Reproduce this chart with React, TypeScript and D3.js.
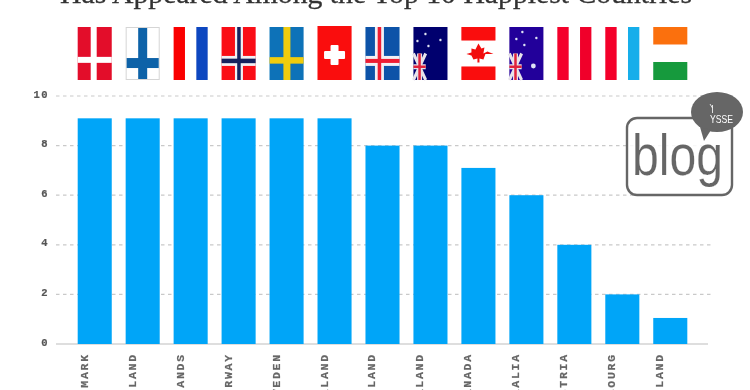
import React from "react";
import * as d3 from "d3";

const countries = ["DENMARK","FINLAND","NETHERLANDS","NORWAY","SWEDEN","SWITZERLAND","ICELAND","NEW ZEALAND","CANADA","AUSTRALIA","AUSTRIA","LUXEMBOURG","IRELAND"];
const appearances = [9.1,9.1,9.1,9.1,9.1,9.1,8,8,7.1,6,4,2,1.05];
const yTicks = [0,2,4,6,8,10];
const titleText = "Has Appeared Among the Top 10 Happiest Countries";

const W = 750, H = 390;
const x = d3.scaleBand<string>().domain(countries).range([70.5, 694.5]).paddingInner(0.29).paddingOuter(0.15);
const y = d3.scaleLinear().domain([0, 10]).range([344, 96]);
const blue = "#05a5f8";
const FT = 27, FH = 53;

function Cross({ w, cx, cy, vw, hh, c }: any) {
  return <g fill={c}>
    <rect x={cx - vw / 2} y={0} width={vw} height={FH} />
    <rect x={0} y={cy - hh / 2} width={w} height={hh} />
  </g>;
}
function Union({ w }: { w: number }) {
  const uw = w * 0.36, t = FH * 0.5, b = FH;
  return <g>
    <path d={`M0 ${t}L${uw} ${b}M${uw} ${t}L0 ${b}`} stroke="#e8e3ea" strokeWidth={3} />
    <path d={`M${uw / 2} ${t}V${b}M0 ${(t + b) / 2}H${uw}`} stroke="#e8e3ea" strokeWidth={5} />
    <path d={`M${uw / 2} ${t}V${b}M0 ${(t + b) / 2}H${uw}`} stroke="#e0243c" strokeWidth={2.5} />
  </g>;
}
function Stars({ pts }: { pts: number[][] }) {
  return <g fill="#dfe3f5">{pts.map((p, i) => <circle key={i} cx={p[0]} cy={p[1]} r={p[2] ?? 1.2} />)}</g>;
}
function Flag({ name, w }: { name: string; w: number }) {
  const third = w / 3;
  switch (name) {
    case "DENMARK":
      return <g><rect width={w} height={FH} fill="#e30a2a" /><Cross w={w} cx={w * 0.47} cy={FH * 0.62} vw={6} hh={6} c="#fff" /></g>;
    case "FINLAND":
      return <g><rect x={0.5} y={0.5} width={w - 1} height={FH - 1} fill="#fff" stroke="#d5d5d5" /><rect x={w * 0.5 - 4.5} y={1} width={9} height={FH - 2} fill="#0b62a8" /><rect x={1} y={FH * 0.68 - 5} width={w - 2} height={10} fill="#0b62a8" /></g>;
    case "NETHERLANDS":
      return <g><rect width={third} height={FH} fill="#fa0505" /><rect x={2 * third} width={third} height={FH} fill="#0d47c0" /></g>;
    case "NORWAY":
      return <g><rect width={w} height={FH} fill="#fa0a14" /><Cross w={w} cx={w * 0.51} cy={FH * 0.64} vw={8} hh={10} c="#f2f0f4" /><Cross w={w} cx={w * 0.51} cy={FH * 0.64} vw={3.5} hh={4.5} c="#12245e" /></g>;
    case "SWEDEN":
      return <g><rect width={w} height={FH} fill="#0d72b8" /><Cross w={w} cx={w * 0.51} cy={FH * 0.63} vw={7} hh={6.5} c="#f0cc10" /></g>;
    case "SWITZERLAND":
      return <g><rect y={-1} width={w} height={FH + 1} fill="#fa0a0a" /><rect x={w / 2 - 4} y={FH * 0.53 - 10} width={8} height={20} fill="#fff" rx={1} /><rect x={w / 2 - 10.5} y={FH * 0.53 - 4} width={21} height={8} fill="#fff" rx={1} /></g>;
    case "ICELAND":
      return <g><rect width={w} height={FH} fill="#0b52a8" /><Cross w={w} cx={w * 0.41} cy={FH * 0.64} vw={9} hh={10} c="#f2f0f4" /><Cross w={w} cx={w * 0.41} cy={FH * 0.64} vw={3.5} hh={4} c="#ee1a30" /></g>;
    case "NEW ZEALAND":
      return <g><rect width={w} height={FH} fill="#05056e" /><Union w={w} /><Stars pts={[[12, 7], [27, 13], [15, 19], [4, 14]]} /></g>;
    case "CANADA":
      return <g><rect width={w} height={13.5} fill="#fa0a0a" /><rect y={FH - 13.5} width={w} height={13.5} fill="#fa0a0a" /><path transform={`translate(${w / 2},${FH / 2})`} d="M0-10L3-5L6-6L5 0L9-2L15 0.5H7L5 6L1 5V9H-1V5L-5 6L-7 2L-12 0.5L-7-1L-7-5L-3-4Z" fill="#f21010" /></g>;
    case "AUSTRALIA":
      return <g><rect width={w} height={FH} fill="#24069a" /><Union w={w} /><Stars pts={[[13, 5], [7, 12], [27, 11], [15, 18], [24, 39, 2.4]]} /></g>;
    case "AUSTRIA":
      return <g><rect width={third} height={FH} fill="#f4052a" /><rect x={2 * third} width={third} height={FH} fill="#f0052c" /></g>;
    case "LUXEMBOURG":
      return <g><rect width={third} height={FH} fill="#f4052a" /><rect x={2 * third} width={third} height={FH} fill="#14aeea" /></g>;
    default:
      return <g><rect width={w} height={17.5} fill="#fb6f10" /><rect y={FH - 18} width={w} height={18} fill="#149a3c" /></g>;
  }
}

export default function App() {
  const bw = x.bandwidth();
  return (
    <svg width={W} height={H} viewBox={`0 0 ${W} ${H}`} style={{ position: "absolute", left: 0, top: 0, background: "#fff" }}>
      <defs><filter id="soft" x="-2%" y="-2%" width="104%" height="104%"><feGaussianBlur stdDeviation="0.6" /></filter></defs>
      <g filter="url(#soft)">
        <text x={60} y={3} textLength={632} lengthAdjust="spacingAndGlyphs" fontFamily="'Liberation Serif', serif" fontSize={28} fill="#333" stroke="#333" strokeWidth={0.3}>{titleText}</text>

        {yTicks.map(t => (
          <g key={t}>
            {t > 0 && <line x1={56} x2={712} y1={y(t)} y2={y(t)} stroke="#c9c9c9" strokeWidth={1.2} strokeDasharray="3.5 3.5" />}
            <text x={49} y={y(t) + 1.5} textAnchor="end" fontFamily="'Liberation Mono', monospace" fontWeight="bold" fontSize={10.5} letterSpacing={1.5} fill="#555" stroke="#555" strokeWidth={0.2}>{t}</text>
          </g>
        ))}
        <line x1={56} x2={708} y1={y(0)} y2={y(0)} stroke="#bdbdbd" strokeWidth={1.2} />

        {countries.map((c, i) => (
          <rect key={c} x={x(c)} y={y(appearances[i])} width={bw} height={y(0) - y(appearances[i])} fill={blue} />
        ))}
        {countries.map(c => (
          <g key={c} transform={`translate(${x(c)},${FT})`}><Flag name={c} w={bw} /></g>
        ))}
        {countries.map(c => (
          <text key={c} transform={`translate(${x(c)! + 10},353) rotate(-90)`} textAnchor="end" fontFamily="'Liberation Mono', monospace" fontWeight="bold" fontSize={11.5} letterSpacing={1.8} fill="#666" stroke="#666" strokeWidth={0.2}>{c}</text>
        ))}

        <g>
          <rect x={627} y={118} width={105} height={77} rx={10} fill="#fff" fillOpacity={0.85} stroke="#666" strokeWidth={2.4} />
          <text x={632} y={175} textLength={91} lengthAdjust="spacingAndGlyphs" fontFamily="'Liberation Sans', sans-serif" fontSize={57} fill="#666" stroke="#fff" strokeWidth={0.2}>blog</text>
          <ellipse cx={717} cy={112} rx={26} ry={20} fill="#666" />
          <path d="M700 127L704 141L711 130Z" fill="#666" />
          <path d="M712.5 113V105M712.5 108L710 104" stroke="#fff" strokeWidth={0.8} fill="none" />
          <text x={710} y={123} textLength={23} lengthAdjust="spacingAndGlyphs" fontFamily="'Liberation Sans', sans-serif" fontSize={10.5} fill="#fff">YSSE</text>
        </g>
      </g>
    </svg>
  );
}
